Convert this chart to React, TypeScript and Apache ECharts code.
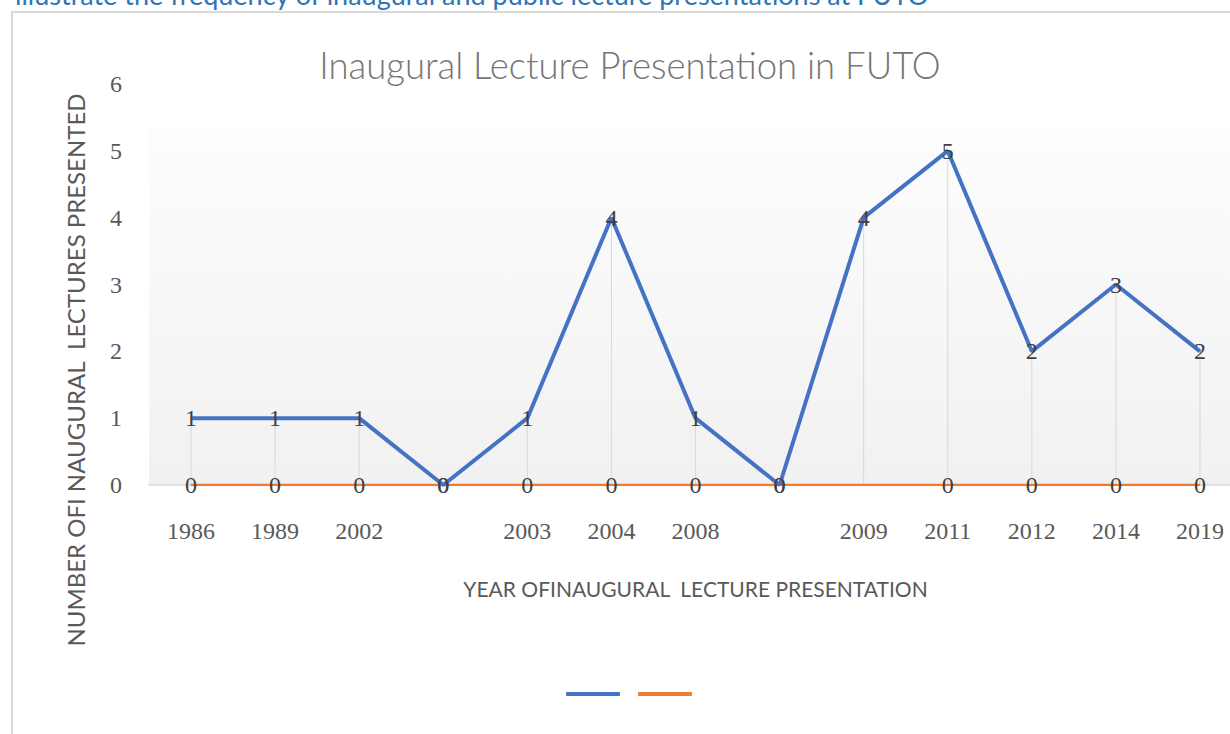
import React, { useEffect, useRef } from "react";
import * as echarts from "echarts";

const years = ["1986", "1989", "2002", "", "2003", "2004", "2008", "", "2009", "2011", "2012", "2014", "2019"];
const lectures = [1, 1, 1, 0, 1, 4, 1, 0, 4, 5, 2, 3, 2];
const zeroSeries: (number | null)[] = [0, 0, 0, 0, 0, 0, 0, 0, null, 0, 0, 0, 0];
const yTicks = [0, 1, 2, 3, 4, 5, 6];

const chartTitle = "Inaugural Lecture Presentation in FUTO";
const xTitle = "YEAR OFINAUGURAL  LECTURE PRESENTATION";
const yTitle = "NUMBER OFI NAUGURAL  LECTURES PRESENTED";
const captionText = "illustrate the frequency of inaugural and public lecture presentations at FUTO";

export default function App() {
  const ref = useRef<HTMLDivElement>(null);
  useEffect(() => {
    if (!ref.current) return;
    const chart = echarts.init(ref.current, null, { renderer: "svg" });
    const serif = "'Liberation Serif', serif";
    const sans = "Lato, 'Noto Sans', sans-serif";
    const labelStyle = {
      show: true,
      position: "inside" as const,
      fontFamily: serif,
      fontSize: 24,
      color: "#404040",
    };
    chart.setOption({
      animation: false,
      backgroundColor: "#ffffff",
      title: {
        text: chartTitle,
        left: 625,
        top: 41,
        textAlign: "center",
        textStyle: { fontFamily: sans, fontSize: 36.5, fontWeight: 300, color: "#757575" },
      },
      legend: {
        left: 566,
        top: 692,
        padding: 0,
        itemWidth: 54,
        itemHeight: 4,
        itemGap: 18,
        icon: "roundRect",
        formatter: () => "",
        data: ["Lectures", "Baseline"],
      },
      graphic: [
        {
          type: "rect",
          z: -10,
          shape: { x: 12, y: 12, width: 1400, height: 900 },
          style: { fill: "none", stroke: "#d9d9d9", lineWidth: 2 },
        },
        {
          type: "text",
          x: 15,
          y: 8,
          style: {
            text: captionText,
            fontFamily: sans,
            fontSize: 27,
            fill: "#2E75B6",
            textVerticalAlign: "bottom",
          },
        },
        {
          type: "text",
          x: 75,
          y: 370,
          rotation: Math.PI / 2,
          style: {
            text: yTitle,
            fontFamily: sans,
            fontSize: 24,
            fill: "#595959",
            textAlign: "center",
            textVerticalAlign: "middle",
          },
        },
      ],
      grid: {
        left: 149,
        top: 84,
        width: 1093,
        height: 401,
        show: true,
        borderWidth: 0,
        backgroundColor: {
          type: "linear",
          x: 0,
          y: 0,
          x2: 0,
          y2: 1,
          colorStops: [
            { offset: 0, color: "#ffffff" },
            { offset: 0.107, color: "#ffffff" },
            { offset: 0.108, color: "#fdfdfd" },
            { offset: 1, color: "#f1f1f1" },
          ],
        },
      },
      xAxis: {
        type: "category",
        data: years,
        boundaryGap: true,
        axisLine: { lineStyle: { color: "#d9d9d9", width: 1.5 } },
        axisTick: { show: false },
        axisLabel: { fontFamily: serif, fontSize: 24, color: "#595959", margin: 34, interval: 0 },
        name: xTitle,
        nameLocation: "middle",
        nameGap: 93,
        nameTextStyle: { fontFamily: sans, fontSize: 21, color: "#595959" },
      },
      yAxis: {
        type: "value",
        min: yTicks[0],
        max: yTicks[yTicks.length - 1],
        interval: 1,
        axisLine: { show: false },
        axisTick: { show: false },
        splitLine: { show: false },
        axisLabel: { fontFamily: serif, fontSize: 24, color: "#595959", margin: 27 },
      },
      series: [
        {
          name: "drop",
          type: "bar",
          data: lectures,
          barWidth: 1,
          itemStyle: { color: "#d9d9d9" },
          silent: true,
          z: 1,
        },
        {
          name: "Baseline",
          type: "line",
          data: zeroSeries,
          connectNulls: true,
          symbol: "circle",
          symbolSize: 1,
          itemStyle: { color: "#ED7D31" },
          lineStyle: { color: "#ED7D31", width: 2.5 },
          label: labelStyle,
          z: 3,
        },
        {
          name: "Lectures",
          type: "line",
          data: lectures,
          symbol: "circle",
          symbolSize: 1,
          itemStyle: { color: "#4472C4" },
          lineStyle: { color: "#4472C4", width: 4 },
          label: labelStyle,
          z: 4,
        },
      ],
    });
    return () => chart.dispose();
  }, []);
  return (
    <div style={{ position: "absolute", left: 0, top: 0, width: 1230, height: 734, overflow: "hidden" }}>
      <div ref={ref} style={{ position: "absolute", left: 0, top: 0, width: 1260, height: 734 }} />
    </div>
  );
}
